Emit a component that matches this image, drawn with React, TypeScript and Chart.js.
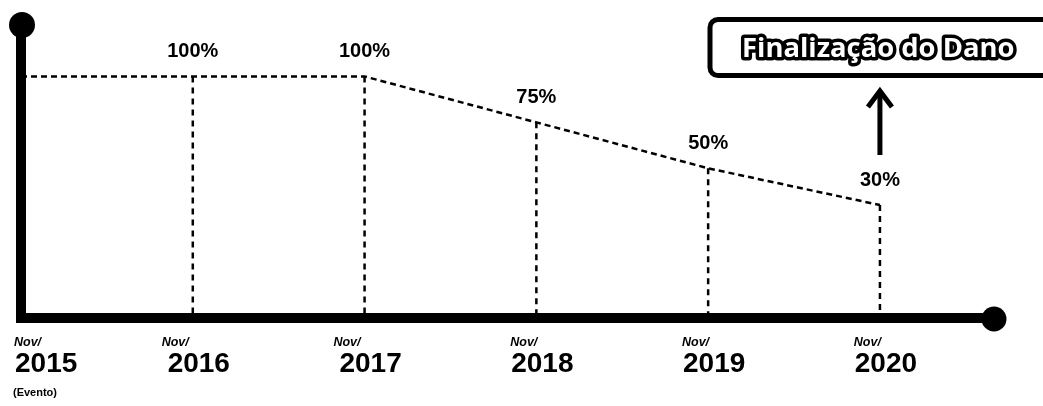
import React, { useEffect, useRef } from "react";
import { Chart, registerables } from "chart.js";

Chart.register(...registerables);

const categories = ["2015", "2016", "2017", "2018", "2019", "2020"];
const values = [100, 100, 100, 75, 50, 30];
const percentLabels = ["", "100%", "100%", "75%", "50%", "30%"];
const monthLabel = "Nov/";
const eventNote = "(Evento)";
const boxTitle = "Finalização do Dano";

const Y_MIN = -31.5;
const Y_MAX = 128;
const X_MAX = 5.664;

const overlayPlugin = {
  id: "timelineOverlay",
  afterDatasetsDraw(chart: any) {
    const { ctx, chartArea, scales } = chart;
    const xs = scales.x;
    const ys = scales.y;
    const left = chartArea.left;
    const right = chartArea.right;
    const top = chartArea.top;
    const bottom = chartArea.bottom;
    ctx.save();
    ctx.fillStyle = "#000";
    ctx.strokeStyle = "#000";

    // axes
    ctx.lineWidth = 10;
    ctx.lineCap = "butt";
    ctx.beginPath();
    ctx.moveTo(left, top);
    ctx.lineTo(left, bottom);
    ctx.stroke();
    ctx.fillRect(left - 5, bottom - 5, right - left + 5, 10);
    ctx.beginPath();
    ctx.arc(left + 1, top, 13, 0, Math.PI * 2);
    ctx.fill();
    ctx.beginPath();
    ctx.arc(right, bottom + 1, 12.5, 0, Math.PI * 2);
    ctx.fill();

    // percent labels
    ctx.font = "bold 20px 'Liberation Sans', Arial, sans-serif";
    ctx.textAlign = "center";
    ctx.textBaseline = "middle";
    values.forEach((v, i) => {
      if (!percentLabels[i]) return;
      const px = xs.getPixelForValue(i);
      const py = ys.getPixelForValue(v);
      ctx.fillText(percentLabels[i], px, py - 25);
    });

    // tick labels
    ctx.textAlign = "left";
    ctx.textBaseline = "alphabetic";
    categories.forEach((c, i) => {
      const px = xs.getPixelForValue(i);
      ctx.font = "bold 28px 'Liberation Sans', Arial, sans-serif";
      const w = ctx.measureText(c).width;
      const yearLeft = i === 0 ? px - 6 : px + 6 - w / 2;
      ctx.fillText(c, yearLeft, 372);
      ctx.font = "italic bold 12.5px 'Liberation Sans', Arial, sans-serif";
      ctx.fillText(monthLabel, yearLeft - (i === 1 || i === 2 ? 6 : 1), 346);
      if (i === 0) {
        ctx.font = "bold 11px 'Liberation Sans', Arial, sans-serif";
        ctx.fillText(eventNote, yearLeft - 2, 396);
      }
    });

    // box
    const bx = 710;
    const by = 19.5;
    const bw = 360;
    const bh = 56;
    const r = 8;
    ctx.lineWidth = 5;
    ctx.beginPath();
    ctx.moveTo(bx + r, by);
    ctx.lineTo(bx + bw - r, by);
    ctx.arcTo(bx + bw, by, bx + bw, by + r, r);
    ctx.lineTo(bx + bw, by + bh - r);
    ctx.arcTo(bx + bw, by + bh, bx + bw - r, by + bh, r);
    ctx.lineTo(bx + r, by + bh);
    ctx.arcTo(bx, by + bh, bx, by + bh - r, r);
    ctx.lineTo(bx, by + r);
    ctx.arcTo(bx, by, bx + r, by, r);
    ctx.closePath();
    ctx.stroke();

    ctx.font = "bold 26px 'Open Sans', sans-serif";
    const tw = ctx.measureText(boxTitle).width;
    const fs = 26 * (273 / tw);
    ctx.font = `bold ${fs.toFixed(1)}px 'Open Sans', sans-serif`;
    ctx.textAlign = "left";
    ctx.textBaseline = "alphabetic";
    ctx.lineJoin = "round";
    ctx.lineWidth = 7;
    ctx.strokeText(boxTitle, 742, 57);
    ctx.fillStyle = "#fff";
    ctx.fillText(boxTitle, 742, 57);
    ctx.fillStyle = "#000";

    // arrow
    const ax = xs.getPixelForValue(5);
    ctx.lineWidth = 5;
    ctx.lineCap = "butt";
    ctx.lineJoin = "miter";
    ctx.beginPath();
    ctx.moveTo(ax, 155);
    ctx.lineTo(ax, 92);
    ctx.stroke();
    ctx.beginPath();
    ctx.moveTo(ax - 12, 107);
    ctx.lineTo(ax, 91);
    ctx.lineTo(ax + 12, 107);
    ctx.stroke();

    ctx.restore();
  },
};

export default function App() {
  const canvasRef = useRef<HTMLCanvasElement | null>(null);

  useEffect(() => {
    document.body.style.margin = "0";
    const canvas = canvasRef.current;
    if (!canvas) return;

    const mainLine = {
      data: values.map((v, i) => ({ x: i, y: v })),
      borderColor: "#000",
      borderWidth: 2.5,
      borderDash: [6, 4],
      pointRadius: 0,
      fill: false,
      tension: 0,
    };
    const drops = values.slice(1).map((v, k) => ({
      data: [
        { x: k + 1, y: v },
        { x: k + 1, y: Y_MIN },
      ],
      borderColor: "#000",
      borderWidth: 2.5,
      borderDash: [6, 5],
      pointRadius: 0,
      fill: false,
    }));

    const chart = new Chart(canvas, {
      type: "line",
      data: { datasets: [mainLine, ...drops] as any },
      options: {
        animation: false,
        responsive: false,
        devicePixelRatio: 1,
        layout: { padding: { left: 21, right: 49, top: 25, bottom: 88 } },
        plugins: { legend: { display: false }, tooltip: { enabled: false } },
        scales: {
          x: { type: "linear", min: 0, max: X_MAX, display: false },
          y: { type: "linear", min: Y_MIN, max: Y_MAX, display: false },
        },
      },
      plugins: [overlayPlugin],
    });
    return () => chart.destroy();
  }, []);

  return (
    <div style={{ width: 1043, height: 406, background: "#fff" }}>
      <canvas ref={canvasRef} width={1043} height={406} />
    </div>
  );
}
